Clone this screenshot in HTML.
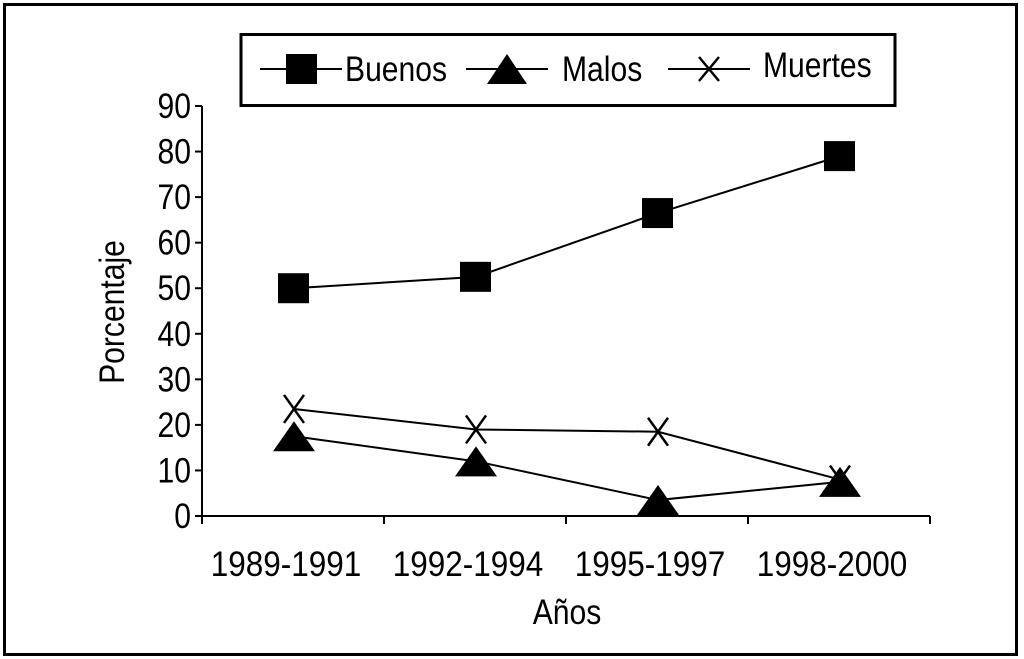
<!DOCTYPE html>
<html><head><meta charset="utf-8"><style>
body{margin:0;background:#fff}
svg{display:block}
text{font-family:"Liberation Sans Narrow","Liberation Sans",sans-serif;fill:#000}
</style></head><body>
<svg width="1024" height="659" viewBox="0 0 1024 659">
<rect x="4.5" y="4.5" width="1012" height="650" fill="none" stroke="#000" stroke-width="3"/>
<g>
<rect x="241" y="34.5" width="654" height="71" fill="none" stroke="#000" stroke-width="3"/>
<g>
<line x1="260" y1="69" x2="342" y2="69" stroke="#000" stroke-width="2"/>
<rect x="286" y="54" width="31" height="30" fill="#000"/>
<text transform="translate(345,81) scale(0.86,1)" font-size="35">Buenos</text></g>
<g>
<line x1="466" y1="69" x2="548" y2="69" stroke="#000" stroke-width="2"/>
<polygon points="487,84 527,84 507,54" fill="#000"/>
<text transform="translate(562,81) scale(0.86,1)" font-size="35">Malos</text></g>
<g>
<line x1="668" y1="69" x2="750" y2="69" stroke="#000" stroke-width="2"/>
<path d="M699,57 L719,81 M719,57 L699,81" stroke="#000" stroke-width="2.5"/>
<text transform="translate(763,77) scale(0.86,1)" font-size="35">Muertes</text></g>
</g>
<g id="axes"></g>
<g id="plot"></g>
<text transform="translate(124,312) rotate(-90) scale(0.86,1)" font-size="35" text-anchor="middle">Porcentaje</text>
<text transform="translate(567,624) scale(0.86,1)" font-size="35" text-anchor="middle">Años</text>
</svg>
<script>
const categories=["1989-1991","1992-1994","1995-1997","1998-2000"];
const buenos=[50,52.5,66.5,79];
const malos=[17.5,12,3.5,7.5];
const muertes=[23.5,19,18.5,8];
const yTicks=[0,10,20,30,40,50,60,70,80,90];
const NS="http://www.w3.org/2000/svg";
const x0=202,x1=930,yTop=106,yBot=516;
const band=(x1-x0)/categories.length;
const xs=i=>x0+band*(i+0.5)+1;
const ys=v=>yBot-(v/90)*(yBot-yTop);
function mk(t,a,p){const e=document.createElementNS(NS,t);for(const k in a)e.setAttribute(k,a[k]);p.appendChild(e);return e;}
const ax=document.getElementById('axes'),pl=document.getElementById('plot');
const yl=mk('line',{x1:x0,y1:yTop,x2:x0,y2:yBot,stroke:'#000','stroke-width':2},ax);


const xl=mk('line',{x1:x0,y1:yBot,x2:x1,y2:yBot,stroke:'#000','stroke-width':2},ax);


yTicks.forEach(v=>{const y=ys(v);mk('line',{x1:x0-7,y1:y,x2:x0,y2:y,stroke:'#000','stroke-width':2},ax);
const t=mk('text',{transform:`translate(${x0-11},${y+12}) scale(0.86,1)`,'font-size':35,'text-anchor':'end'},ax);t.textContent=v;

});
for(let i=0;i<=categories.length;i++){const x=x0+band*i;mk('line',{x1:x,y1:yBot,x2:x,y2:yBot+8,stroke:'#000','stroke-width':2},ax);}
categories.forEach((c,i)=>{const t=mk('text',{transform:`translate(${xs(i)-8},${yBot+60}) scale(0.9,1)`,'font-size':35,'text-anchor':'middle'},ax);t.textContent=c;

});
function line(arr,name){const p=mk('polyline',{points:arr.map((v,i)=>xs(i)+','+ys(v)).join(' '),fill:'none',stroke:'#000','stroke-width':2},pl);

}
line(buenos,'buenos-line');line(malos,'malos-line');line(muertes,'muertes-line');
buenos.forEach((v,i)=>{const r=mk('rect',{x:xs(i)-16,y:ys(v)-15,width:31,height:30,fill:'#000'},pl);

});
malos.forEach((v,i)=>{const x=xs(i),y=ys(v);const p=mk('polygon',{points:`${x-21},${y+15} ${x+21},${y+15} ${x},${y-15}`,fill:'#000'},pl);

});
muertes.forEach((v,i)=>{const x=xs(i),y=ys(v);const p=mk('path',{d:`M${x-10},${y-14} L${x+10},${y+14} M${x+10},${y-14} L${x-10},${y+14}`,stroke:'#000','stroke-width':2.5},pl);

});
</script>
</body></html>
